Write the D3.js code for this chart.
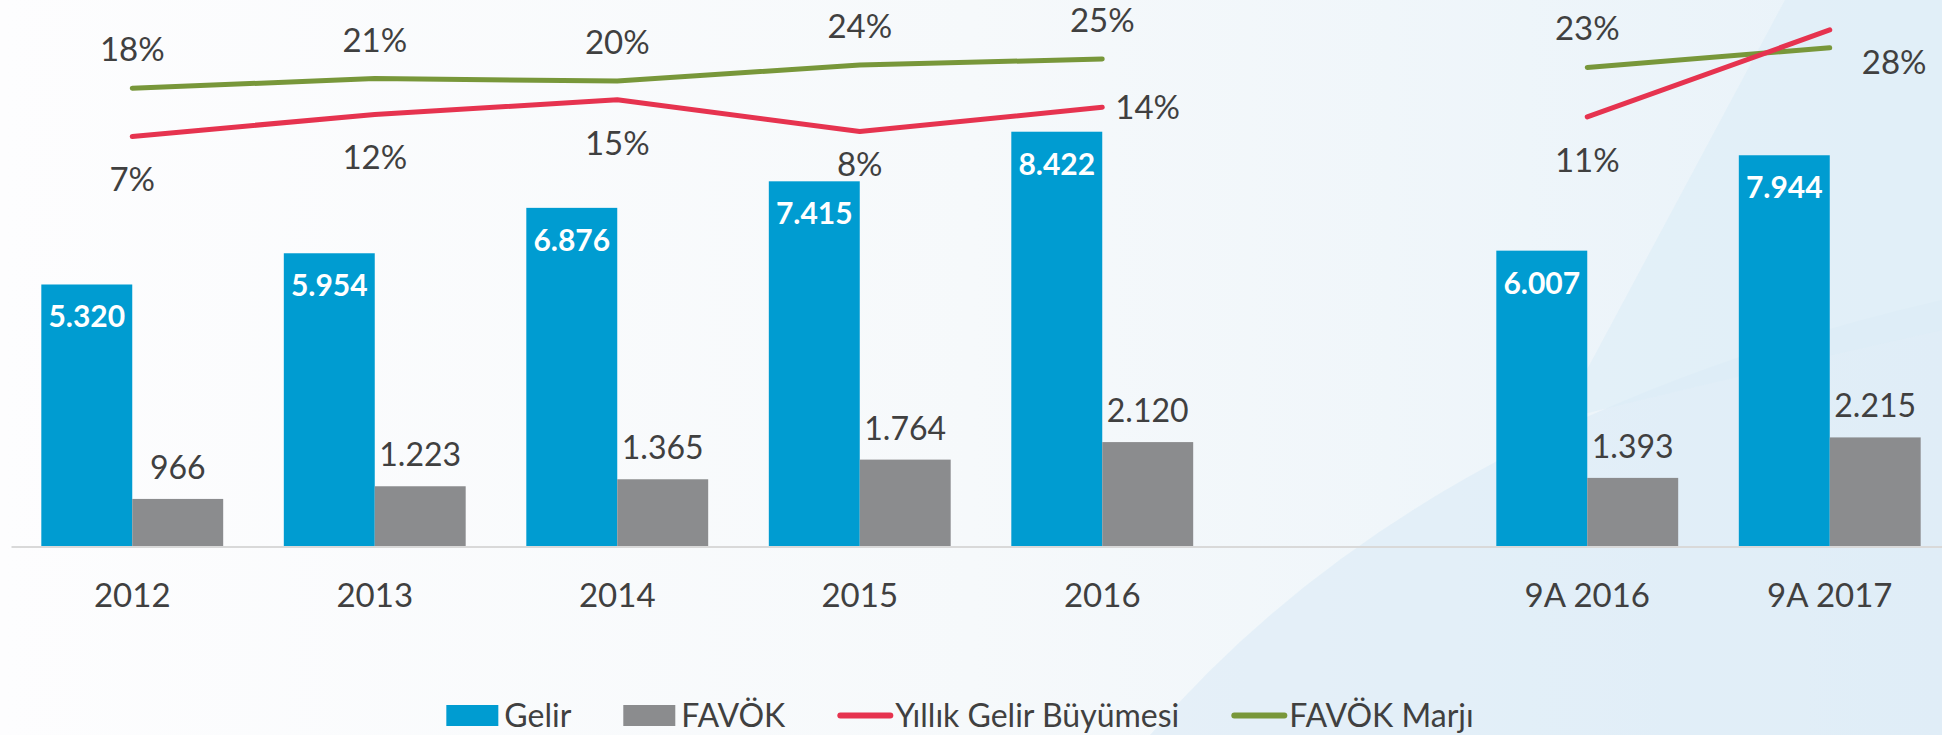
<!DOCTYPE html>
<html>
<head>
<meta charset="utf-8">
<script src="https://cdn.jsdelivr.net/npm/d3@7"></script>
<style>
  html, body { margin: 0; padding: 0; background: #ffffff; }
  svg { display: block; font-family: Lato, "Open Sans", sans-serif; }
</style>
</head>
<body>
<svg id="chart" width="1942" height="735"></svg>
<script>
// ---- data ----
const categories = ["2012", "2013", "2014", "2015", "2016", "", "9A 2016", "9A 2017"];
const gelir = [5320, 5954, 6876, 7415, 8422, null, 6007, 7944];
const favok = [966, 1223, 1365, 1764, 2120, null, 1393, 2215];
const gelirBuyumesi = [0.066, 0.119, 0.154, 0.078, 0.136, null, 0.113, 0.322];
const favokMarji = [0.182, 0.205, 0.199, 0.238, 0.252, null, 0.232, 0.279];
const seriesNames = ["Gelir", "FAVÖK", "Yıllık Gelir Büyümesi", "FAVÖK Marjı"];

// where each line label sits relative to its point (null = no label)
const growthLabelPlace = ["below", "below", "below", "belowNear", "right", null, "below", null];
const marginLabelPlace = ["above", "above", "above", "above", "above", null, "above", "rightLow"];

// ---- styles ----
const colors = { gelir: "#009cd1", favok: "#8b8c8e", growth: "#e6334f", margin: "#78973a" };
const textColor = "#404040";

const W = 1942, H = 735;
const svg = d3.select("#chart");

// ---- background ----
const defs = svg.append("defs");
const bg = defs.append("linearGradient").attr("id", "bg").attr("x1", 0).attr("y1", 0).attr("x2", 1).attr("y2", 0);
bg.append("stop").attr("offset", 0).attr("stop-color", "#fdfdfe");
bg.append("stop").attr("offset", 0.5).attr("stop-color", "#f6f9fb");
bg.append("stop").attr("offset", 1).attr("stop-color", "#e8f2f9");
svg.append("rect").attr("width", W).attr("height", H).attr("fill", "url(#bg)");
svg.append("path")
  .attr("d", "M1150,735 Q1420,420 1942,300 L1942,735 Z")
  .attr("fill", "#d9eaf6").attr("opacity", 0.55);
svg.append("path")
  .attr("d", "M1560,420 L1785,0 L1942,0 L1942,330 Q1720,380 1560,420 Z")
  .attr("fill", "#dcecf7").attr("opacity", 0.6);

// ---- scales ----
const x = d3.scaleBand().domain(categories).range([11, 1951]).paddingInner(0.25).paddingOuter(0.125);
const xSub = d3.scaleBand().domain(["gelir", "favok"]).range([0, x.bandwidth()]);
const y = d3.scaleLinear().domain([0, 10000]).range([546.5, 54]);
const y2 = d3.scaleLinear().domain([0, 0.3]).range([163.9, 39.1]);

const trLocale = d3.formatLocale({ decimal: ",", thousands: ".", grouping: [3], currency: ["", " ₺"] });
const fmtNum = trLocale.format(",");
const fmtPct = d3.format(".0%");

const rows = categories.map((c, i) => ({
  cat: c, gelir: gelir[i], favok: favok[i], growth: gelirBuyumesi[i], margin: favokMarji[i],
  gPlace: growthLabelPlace[i], mPlace: marginLabelPlace[i]
})).filter(d => d.cat !== "");

// ---- bars ----
const groups = svg.append("g").selectAll("g").data(rows).join("g")
  .attr("transform", d => `translate(${x(d.cat)},0)`);

groups.append("rect")
  .attr("x", xSub("gelir")).attr("width", xSub.bandwidth())
  .attr("y", d => y(d.gelir)).attr("height", d => y(0) - y(d.gelir))
  .attr("fill", colors.gelir);
groups.append("rect")
  .attr("x", xSub("favok")).attr("width", xSub.bandwidth())
  .attr("y", d => y(d.favok)).attr("height", d => y(0) - y(d.favok))
  .attr("fill", colors.favok);

// value labels
groups.append("text")
  .attr("x", xSub("gelir") + xSub.bandwidth() / 2)
  .attr("y", d => y(d.gelir) + 43)
  .attr("text-anchor", "middle")
  .attr("font-size", 30).attr("font-weight", 700).attr("fill", "#ffffff")
  .text(d => fmtNum(d.gelir));
groups.append("text")
  .attr("x", xSub("favok") + xSub.bandwidth() / 2)
  .attr("y", d => y(d.favok) - 20)
  .attr("text-anchor", "middle")
  .attr("font-size", 32).attr("fill", textColor)
  .text(d => fmtNum(d.favok));

// ---- x axis ----
const xAxis = svg.append("g").attr("transform", `translate(0,${y(0)})`)
  .call(d3.axisBottom(x).tickSize(0).tickSizeOuter(0).tickPadding(37));
xAxis.select(".domain").attr("stroke", "#d9d9d9").attr("stroke-width", 2);
xAxis.selectAll(".tick text")
  .attr("font-family", "Lato, 'Open Sans', sans-serif")
  .attr("font-size", 33).attr("fill", textColor);

// ---- lines ----
const cx = c => x(c) + x.bandwidth() / 2;
const allRows = categories.map((c, i) => ({ cat: c, growth: gelirBuyumesi[i], margin: favokMarji[i] }));

const lineGen = key => d3.line()
  .defined(d => d[key] != null)
  .x(d => cx(d.cat))
  .y(d => y2(d[key]));

svg.append("path").datum(allRows)
  .attr("d", lineGen("margin"))
  .attr("fill", "none").attr("stroke", colors.margin).attr("stroke-width", 5)
  .attr("stroke-linecap", "round").attr("stroke-linejoin", "round");
svg.append("path").datum(allRows)
  .attr("d", lineGen("growth"))
  .attr("fill", "none").attr("stroke", colors.growth).attr("stroke-width", 5)
  .attr("stroke-linecap", "round").attr("stroke-linejoin", "round");

// line labels
const place = {
  above:     { dx: 0,  dy: -27, anchor: "middle" },
  below:     { dx: 0,  dy: 55,  anchor: "middle" },
  belowNear: { dx: 0,  dy: 45,  anchor: "middle" },
  right:     { dx: 13, dy: 12,  anchor: "start" },
  rightLow:  { dx: 32, dy: 26,  anchor: "start" }
};
const lineLabels = svg.append("g").attr("font-size", 33).attr("fill", textColor);
rows.forEach(d => {
  [["growth", d.gPlace], ["margin", d.mPlace]].forEach(([key, p]) => {
    if (!p) return;
    const o = place[p];
    lineLabels.append("text")
      .attr("x", cx(d.cat) + o.dx)
      .attr("y", y2(d[key]) + o.dy)
      .attr("text-anchor", o.anchor)
      .text(fmtPct(d[key]));
  });
});

// ---- legend ----
const legendItems = [
  { name: seriesNames[0], type: "rect", color: colors.gelir },
  { name: seriesNames[1], type: "rect", color: colors.favok },
  { name: seriesNames[2], type: "line", color: colors.growth },
  { name: seriesNames[3], type: "line", color: colors.margin }
];
const legend = svg.append("g");
const legendCy = 715.5;
const legendGap = 52;
let lx = 0;
legendItems.forEach(it => {
  const g = legend.append("g");
  if (it.type === "rect") {
    g.append("rect").attr("x", 0).attr("y", legendCy - 10.5).attr("width", 52).attr("height", 21).attr("fill", it.color);
  } else {
    g.append("line").attr("x1", 3).attr("x2", 53).attr("y1", legendCy).attr("y2", legendCy)
      .attr("stroke", it.color).attr("stroke-width", 6).attr("stroke-linecap", "round");
  }
  const tx = 58;
  const t = g.append("text")
    .attr("x", tx)
    .attr("y", legendCy + 11)
    .attr("font-size", 32).attr("fill", textColor)
    .text(it.name);
  g.attr("transform", `translate(${lx},0)`);
  lx += tx + t.node().getComputedTextLength() + legendGap;
});
const legendW = lx - legendGap;
legend.attr("transform", `translate(${960 - legendW / 2},0)`);
</script>
</body>
</html>
